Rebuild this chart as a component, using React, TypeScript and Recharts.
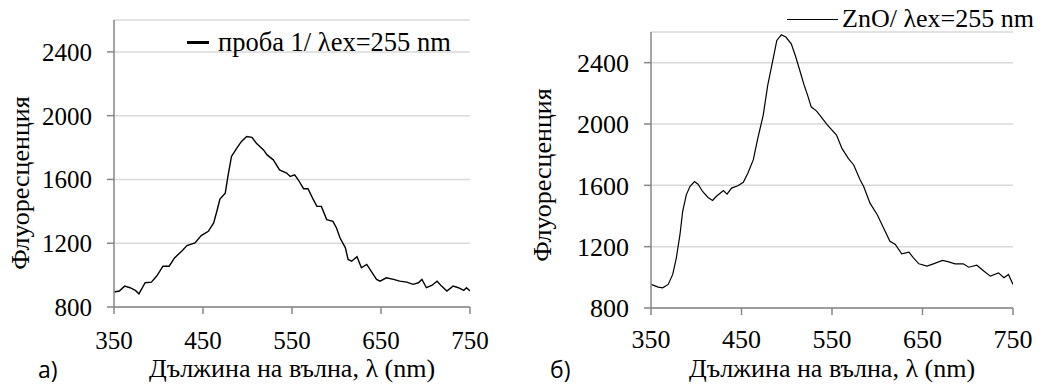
import { LineChart, Line, XAxis, YAxis, CartesianGrid, Legend } from "recharts";

// wavelength (nm) / fluorescence readings, panel а)
const sampleNm = [
  350, 356, 362, 368, 374, 378, 385, 392, 398, 405, 412, 418, 426, 432, 441, 448,
  456, 462, 466, 469, 475, 478, 482, 488, 493, 499, 505, 510, 518, 522, 529, 536,
  544, 548, 553, 557, 563, 568, 574, 578, 583, 589, 596, 600, 604, 610, 613, 617,
  623, 628, 634, 640, 645, 649, 656, 664, 671, 679, 686, 692, 696, 701, 707, 713,
  718, 724, 731, 737, 743, 746, 750,
];
const sampleVal = [
  894, 900, 931, 921, 904, 883, 952, 956, 994, 1056, 1056, 1108, 1150, 1185, 1202, 1248,
  1275, 1327, 1410, 1477, 1514, 1619, 1744, 1796, 1837, 1869, 1864, 1827, 1785, 1754, 1723, 1660,
  1640, 1619, 1629, 1598, 1542, 1542, 1473, 1431, 1431, 1348, 1337, 1296, 1233, 1171, 1098, 1087,
  1115, 1046, 1067, 1015, 973, 962, 983, 973, 962, 956, 942, 952, 973, 921, 935, 962,
  931, 900, 931, 921, 904, 921, 900,
];

// panel б) ZnO
const znoNm = [
  350, 358, 363, 369, 374, 378, 382, 385, 389, 393, 398, 402, 407, 413, 418, 422,
  430, 434, 439, 446, 452, 457, 463, 468, 474, 479, 485, 489, 494, 499, 505, 510,
  516, 519, 523, 527, 533, 538, 545, 555, 561, 568, 574, 581, 585, 592, 600, 607,
  614, 620, 627, 635, 640, 646, 655, 662, 672, 679, 686, 695, 701, 710, 718, 725,
  734, 740, 745, 750,
];
const znoVal = [
  954, 936, 932, 954, 1019, 1127, 1278, 1430, 1538, 1592, 1625, 1607, 1560, 1521, 1501, 1527,
  1566, 1543, 1582, 1597, 1620, 1679, 1766, 1906, 2058, 2253, 2426, 2545, 2582, 2567, 2523, 2437,
  2318, 2257, 2188, 2112, 2084, 2047, 1993, 1928, 1841, 1776, 1733, 1636, 1592, 1484, 1408, 1322,
  1235, 1214, 1153, 1164, 1127, 1088, 1073, 1088, 1110, 1101, 1088, 1088, 1066, 1079, 1040, 1008,
  1029, 997, 1019, 954,
];

const xTicks = [350, 450, 550, 650, 750];
const yTicks = [800, 1200, 1600, 2000, 2400];

const serif = '"Liberation Serif", "Times New Roman", serif';
const axisColor = "#868686";

type PanelProps = {
  left: number;
  width: number;
  data: { nm: number; value: number }[];
  name: string;
  letter: string;
  margin: { top: number; right: number; bottom: number; left: number };
  yWidth: number;
  xHeight: number;
  fontSize: number;
  xTickMargin: number;
  strokeWidth: number;
  legend: { left: number; top: number; lineW: number; lineH: number; fontSize: number; gap: number };
  yLabel: { x: number; y: number };
  letterX: number;
};

function Panel(p: PanelProps) {
  const plotCenter = p.margin.left + p.yWidth + (p.width - p.margin.left - p.yWidth - p.margin.right) / 2;
  return (
    <div style={{ position: "absolute", left: p.left, top: 0, width: p.width, height: 385 }}>
      <LineChart width={p.width} height={385} data={p.data} margin={p.margin}>
        <CartesianGrid vertical={false} stroke="#d9d9d9" strokeWidth={1.5} />
        <XAxis
          type="number"
          dataKey="nm"
          domain={[350, 750]}
          ticks={xTicks}
          allowDataOverflow
          height={p.xHeight}
          tickSize={7}
          tickMargin={p.xTickMargin}
          axisLine={{ stroke: axisColor, strokeWidth: 1.5 }}
          tickLine={{ stroke: axisColor, strokeWidth: 1.5 }}
          tick={{ fill: "#000", fontSize: p.fontSize, fontFamily: serif }}
        />
        <YAxis
          type="number"
          domain={[800, 2600]}
          ticks={yTicks}
          allowDataOverflow
          width={p.yWidth}
          tickSize={7}
          tickMargin={15}
          axisLine={{ stroke: axisColor, strokeWidth: 1.5 }}
          tickLine={{ stroke: axisColor, strokeWidth: 1.5 }}
          tick={{ fill: "#000", fontSize: p.fontSize, fontFamily: serif }}
        />
        <Legend
          layout="horizontal"
          verticalAlign="middle"
          align="center"
          wrapperStyle={{ left: p.legend.left, top: p.legend.top, width: "auto" }}
          content={({ payload }) => (
            <div
              style={{
                display: "flex",
                alignItems: "center",
                fontFamily: serif,
                fontSize: p.legend.fontSize,
                lineHeight: 1,
                whiteSpace: "nowrap",
              }}
            >
              <span
                style={{
                  display: "inline-block",
                  width: p.legend.lineW,
                  height: p.legend.lineH,
                  background: "#000",
                  marginRight: p.legend.gap,
                }}
              />
              {payload && payload[0] ? payload[0].value : p.name}
            </div>
          )}
        />
        <Line
          type="linear"
          dataKey="value"
          name={p.name}
          stroke="#000"
          strokeWidth={p.strokeWidth}
          dot={false}
          isAnimationActive={false}
        />
      </LineChart>
      <div
        style={{
          position: "absolute",
          left: p.yLabel.x,
          top: p.yLabel.y,
          transform: "translate(-50%, -50%) rotate(-90deg)",
          fontFamily: serif,
          fontSize: 26,
          lineHeight: 1,
          whiteSpace: "nowrap",
        }}
      >
        Флуоресценция
      </div>
      <div
        style={{
          position: "absolute",
          left: plotCenter,
          top: 356,
          transform: "translateX(-50%)",
          fontFamily: serif,
          fontSize: 26,
          lineHeight: 1,
          whiteSpace: "nowrap",
        }}
      >
        Дължина на вълна, λ (nm)
      </div>
      <div
        style={{
          position: "absolute",
          left: p.letterX,
          top: 358,
          fontFamily: '"Open Sans", "Liberation Sans", sans-serif',
          fontSize: 23,
          lineHeight: 1,
        }}
      >
        {p.letter}
      </div>
    </div>
  );
}

export default function App() {
  const sampleData = sampleNm.map((nm, i) => ({ nm, value: sampleVal[i] }));
  const znoData = znoNm.map((nm, i) => ({ nm, value: znoVal[i] }));
  return (
    <div style={{ position: "absolute", left: 0, top: 0, width: 1042, height: 385, background: "#fff" }}>
      <Panel
        left={0}
        width={520}
        data={sampleData}
        name="проба 1/ λex=255 nm"
        letter="а)"
        margin={{ top: 20, right: 50, bottom: 0, left: 0 }}
        yWidth={114}
        xHeight={78}
        fontSize={25}
        xTickMargin={17}
        strokeWidth={1.4}
        legend={{ left: 187, top: 29, lineW: 22, lineH: 3, fontSize: 26.5, gap: 9 }}
        yLabel={{ x: 21, y: 183 }}
        letterX={38}
      />
      <Panel
        left={520}
        width={522}
        data={znoData}
        name="ZnO/ λex=255 nm"
        letter="б)"
        margin={{ top: 32, right: 29, bottom: 0, left: 0 }}
        yWidth={131}
        xHeight={77}
        fontSize={26}
        xTickMargin={15}
        strokeWidth={1.2}
        legend={{ left: 267, top: 6, lineW: 51, lineH: 1, fontSize: 26, gap: 4 }}
        yLabel={{ x: 23, y: 175 }}
        letterX={30}
      />
    </div>
  );
}
